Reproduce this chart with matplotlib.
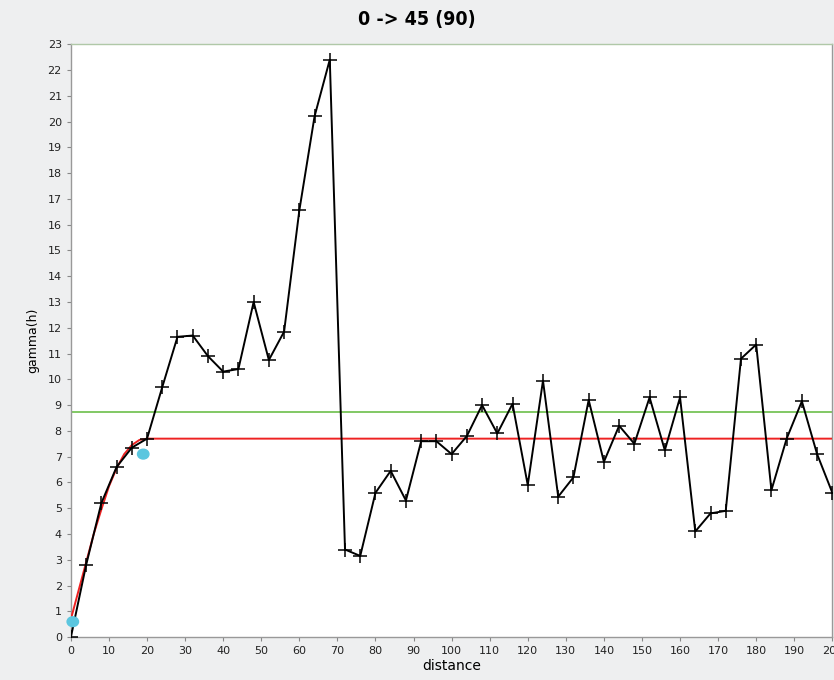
import numpy as np
import matplotlib.pyplot as plt
from matplotlib.patches import Ellipse

# experimental variogram (distance, gamma)
dist = [0, 4, 8, 12, 16, 20, 24, 28, 32, 36, 40, 44, 48, 52, 56, 60, 64, 68,
        72, 76, 80, 84, 88, 92, 96, 100, 104, 108, 112, 116, 120, 124, 128,
        132, 136, 140, 144, 148, 152, 156, 160, 164, 168, 172, 176, 180, 184,
        188, 192, 196, 200]
gamma = [0.0, 2.8, 5.2, 6.6, 7.35, 7.7, 9.7, 11.65, 11.7, 10.9, 10.3, 10.4,
         13.0, 10.75, 11.85, 16.55, 20.2, 22.4, 3.4, 3.15, 5.6, 6.45, 5.3,
         7.6, 7.6, 7.1, 7.8, 9.0, 7.9, 9.05, 5.9, 9.95, 5.45, 6.2, 9.2, 6.8,
         8.2, 7.5, 9.3, 7.25, 9.3, 4.1, 4.8, 4.9, 10.8, 11.35, 5.7, 7.7,
         9.15, 7.1, 5.6]

# fitted model (red)
model_d = [0, 2, 4, 6, 8, 10, 12, 14, 16, 18, 20, 200]
model_g = [0.7, 1.8, 2.9, 4.0, 4.95, 5.85, 6.55, 7.1, 7.45, 7.65, 7.7, 7.7]

variance = 8.75   # green line
pts_x = [0.5, 19]  # cyan points
pts_y = [0.6, 7.1]

bg = '#eeeff0'
fig = plt.figure(figsize=(8.34, 6.8), dpi=100, facecolor=bg)
ax = fig.add_axes([0.085, 0.063, 0.913, 0.872])
ax.set_facecolor('white')

ax.axhline(variance, color='#6cbf4a', lw=1.2, zorder=2)
ax.plot(model_d, model_g, color='#ee2222', lw=1.4, zorder=3)
ax.plot(dist, gamma, color='black', lw=1.4, marker='+', ms=10, mew=1.1, zorder=4)
# slightly flattened cyan dots
for px, py in zip(pts_x, pts_y):
    ax.add_patch(Ellipse((px, py), 3.0, 0.38, color='#5bc6df', zorder=5,
                         clip_on=False))

ax.set_xlim(0, 200)
ax.set_ylim(0, 23)
ax.set_xticks(np.arange(0, 201, 10))
ax.set_yticks(np.arange(0, 24, 1))
ax.tick_params(labelsize=8, length=3, color='#888888', labelcolor='#222222')
for s in ax.spines.values():
    s.set_color('#999999')
    s.set_linewidth(1)
ax.spines['top'].set_color('#b0c8a8')

ax.set_xlabel('distance', fontsize=10, labelpad=2)
ax.set_ylabel('gamma(h)', fontsize=9, labelpad=6)
fig.suptitle('0 -> 45 (90)', fontsize=14, fontweight='bold',
             fontstretch='condensed', family=['DejaVu Sans'], y=0.985)

fig.savefig('out.png', dpi=100, facecolor=bg)
